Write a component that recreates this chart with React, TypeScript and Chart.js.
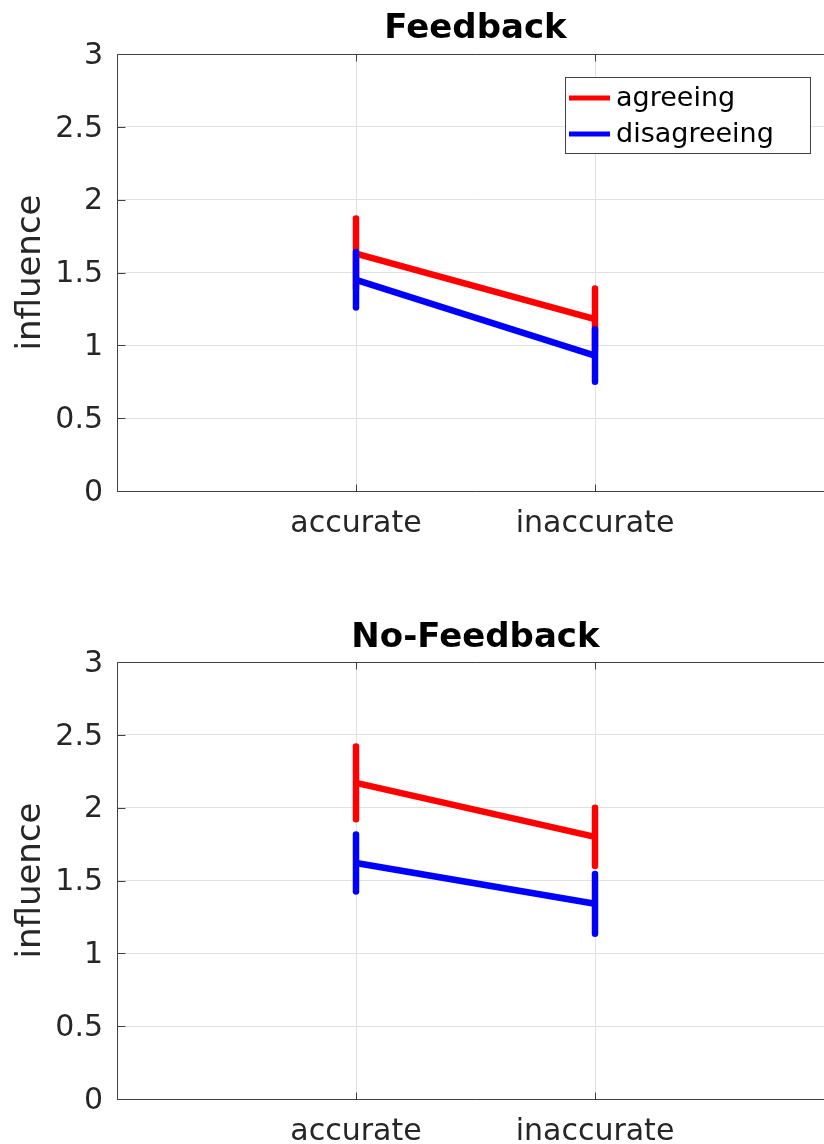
import React, { useEffect, useRef } from "react";
import { Chart, registerables } from "chart.js";

Chart.register(...registerables);

const categories = ["accurate", "inaccurate"];
const categoryPositions = [1, 2];
const yTickValues = [0, 0.5, 1, 1.5, 2, 2.5, 3];
const yTickLabels = ["0", "0.5", "1", "1.5", "2", "2.5", "3"];
const seriesLabels = ["agreeing", "disagreeing"];
const seriesColors = ["#ff0000", "#0000ff"];

const feedbackAgreeing = [1.63, 1.18];
const feedbackAgreeingErr = [0.24, 0.21];
const feedbackDisagreeing = [1.45, 0.93];
const feedbackDisagreeingErr = [0.19, 0.18];

const noFeedbackAgreeing = [2.17, 1.8];
const noFeedbackAgreeingErr = [0.25, 0.2];
const noFeedbackDisagreeing = [1.62, 1.34];
const noFeedbackDisagreeingErr = [0.195, 0.205];

const FONT = "'DejaVu Sans', sans-serif";
const AXIS_COLOR = "#404040";
const TEXT_COLOR = "#262626";

type PanelProps = {
  title: string;
  agree: number[];
  agreeErr: number[];
  disagree: number[];
  disagreeErr: number[];
  showLegend: boolean;
  top: number;
  height: number;
  padTop: number;
  xAxisHeight: number;
  titleBaseline: number;
};

function Panel(props: PanelProps) {
  const ref = useRef<HTMLCanvasElement | null>(null);
  useEffect(() => {
    const canvas = ref.current!;
    const errorBars = {
      id: "errorBars",
      afterDatasetDraw(chart: any, args: any) {
        const ds: any = chart.data.datasets[args.index];
        const xs = chart.scales.x;
        const ys = chart.scales.y;
        const ctx = chart.ctx;
        ctx.save();
        ctx.strokeStyle = ds.borderColor;
        ctx.lineWidth = 6.5;
        ctx.lineCap = "round";
        ds.data.forEach((p: any, i: number) => {
          const e = ds.errors[i];
          const px = xs.getPixelForValue(p.x);
          ctx.beginPath();
          ctx.moveTo(px, ys.getPixelForValue(p.y - e));
          ctx.lineTo(px, ys.getPixelForValue(p.y + e));
          ctx.stroke();
        });
        ctx.restore();
      },
    };
    const decorations = {
      id: "decorations",
      afterDraw(chart: any) {
        const ctx = chart.ctx;
        const a = chart.chartArea;
        const xs = chart.scales.x;
        const ys = chart.scales.y;
        ctx.save();
        ctx.strokeStyle = AXIS_COLOR;
        ctx.lineWidth = 1;
        const L = Math.round(a.left) + 0.5;
        const T = Math.round(a.top) + 0.5;
        const B = Math.round(a.bottom) + 0.5;
        ctx.beginPath();
        ctx.moveTo(a.right + 20, T);
        ctx.lineTo(L, T);
        ctx.lineTo(L, B);
        ctx.lineTo(a.right + 20, B);
        ctx.stroke();
        ctx.beginPath();
        yTickValues.forEach((v) => {
          const py = Math.round(ys.getPixelForValue(v)) + 0.5;
          ctx.moveTo(L, py);
          ctx.lineTo(L + 8, py);
        });
        categoryPositions.forEach((v) => {
          const px = Math.round(xs.getPixelForValue(v)) + 0.5;
          ctx.moveTo(px, B);
          ctx.lineTo(px, B - 7);
          ctx.moveTo(px, T);
          ctx.lineTo(px, T + 7);
        });
        ctx.stroke();
        ctx.fillStyle = "#000000";
        ctx.font = `bold 34px ${FONT}`;
        ctx.textAlign = "center";
        ctx.textBaseline = "alphabetic";
        ctx.fillText(props.title, (a.left + a.right) / 2, props.titleBaseline);
        ctx.save();
        ctx.translate(40, (a.top + a.bottom) / 2);
        ctx.rotate(-Math.PI / 2);
        ctx.fillStyle = TEXT_COLOR;
        ctx.font = `34px ${FONT}`;
        ctx.fillText("influence", 0, 0);
        ctx.restore();
        if (props.showLegend) {
          const bx = 565.5, by = 77.5, bw = 245, bh = 76;
          ctx.fillStyle = "#ffffff";
          ctx.fillRect(bx, by, bw, bh);
          ctx.strokeStyle = AXIS_COLOR;
          ctx.lineWidth = 1;
          ctx.strokeRect(bx, by, bw, bh);
          const rows = [98, 134];
          seriesLabels.forEach((lab, i) => {
            ctx.strokeStyle = seriesColors[i];
            ctx.lineWidth = 5;
            ctx.lineCap = "butt";
            ctx.beginPath();
            ctx.moveTo(569, rows[i]);
            ctx.lineTo(610, rows[i]);
            ctx.stroke();
            ctx.fillStyle = "#000000";
            ctx.font = `27px ${FONT}`;
            ctx.textAlign = "left";
            ctx.textBaseline = "middle";
            ctx.fillText(lab, 616, rows[i] + 1);
          });
        }
        ctx.restore();
      },
    };
    const mk = (vals: number[]) => vals.map((v, i) => ({ x: categoryPositions[i], y: v }));
    const chart = new Chart(canvas, {
      type: "line",
      data: {
        datasets: [
          {
            label: seriesLabels[0],
            data: mk(props.agree),
            errors: props.agreeErr,
            borderColor: seriesColors[0],
            backgroundColor: seriesColors[0],
            borderWidth: 6.5,
            pointRadius: 0,
            order: 1,
          } as any,
          {
            label: seriesLabels[1],
            data: mk(props.disagree),
            errors: props.disagreeErr,
            borderColor: seriesColors[1],
            backgroundColor: seriesColors[1],
            borderWidth: 6.5,
            pointRadius: 0,
            order: 0,
          } as any,
        ],
      },
      options: {
        animation: false,
        responsive: false,
        devicePixelRatio: 1,
        layout: { padding: { top: props.padTop, left: 0, right: 0, bottom: 0 } },
        plugins: { legend: { display: false }, tooltip: { enabled: false }, title: { display: false } },
        scales: {
          x: {
            type: "linear",
            min: 0,
            max: 3,
            afterBuildTicks: (s: any) => {
              s.ticks = categoryPositions.map((v) => ({ value: v }));
            },
            afterFit: (s: any) => {
              s.height = props.xAxisHeight;
            },
            ticks: {
              autoSkip: false,
              maxRotation: 0,
              padding: 15,
              color: TEXT_COLOR,
              font: { family: FONT, size: 30 },
              callback: (v: any) => categories[categoryPositions.indexOf(v)] ?? "",
            },
            grid: { color: "#e0e0e0", lineWidth: 1, drawTicks: false },
            border: { display: false },
          },
          y: {
            type: "linear",
            min: 0,
            max: 3,
            afterBuildTicks: (s: any) => {
              s.ticks = yTickValues.map((v) => ({ value: v }));
            },
            afterFit: (s: any) => {
              s.width = 117;
            },
            ticks: {
              padding: 14,
              labelOffset: 2,
              color: TEXT_COLOR,
              font: { family: FONT, size: 30 },
              callback: (v: any) => yTickLabels[yTickValues.indexOf(v)] ?? "",
            },
            grid: { color: "#e0e0e0", lineWidth: 1, drawTicks: false },
            border: { display: false },
          },
        },
      } as any,
      plugins: [errorBars, decorations],
    });
    return () => chart.destroy();
  }, []);
  return (
    <canvas
      ref={ref}
      width={834}
      height={props.height}
      style={{ position: "absolute", left: 0, top: props.top, width: 834, height: props.height }}
    />
  );
}

export default function App() {
  return (
    <div
      style={{
        position: "absolute",
        left: 0,
        top: 0,
        width: 824,
        height: 1144,
        overflow: "hidden",
        background: "#ffffff",
      }}
    >
      <Panel
        title="Feedback"
        agree={feedbackAgreeing}
        agreeErr={feedbackAgreeingErr}
        disagree={feedbackDisagreeing}
        disagreeErr={feedbackDisagreeingErr}
        showLegend={true}
        top={0}
        height={572}
        padTop={54}
        xAxisHeight={81}
        titleBaseline={38}
      />
      <Panel
        title="No-Feedback"
        agree={noFeedbackAgreeing}
        agreeErr={noFeedbackAgreeingErr}
        disagree={noFeedbackDisagreeing}
        disagreeErr={noFeedbackDisagreeingErr}
        showLegend={false}
        top={572}
        height={572}
        padTop={90}
        xAxisHeight={45}
        titleBaseline={75}
      />
    </div>
  );
}
